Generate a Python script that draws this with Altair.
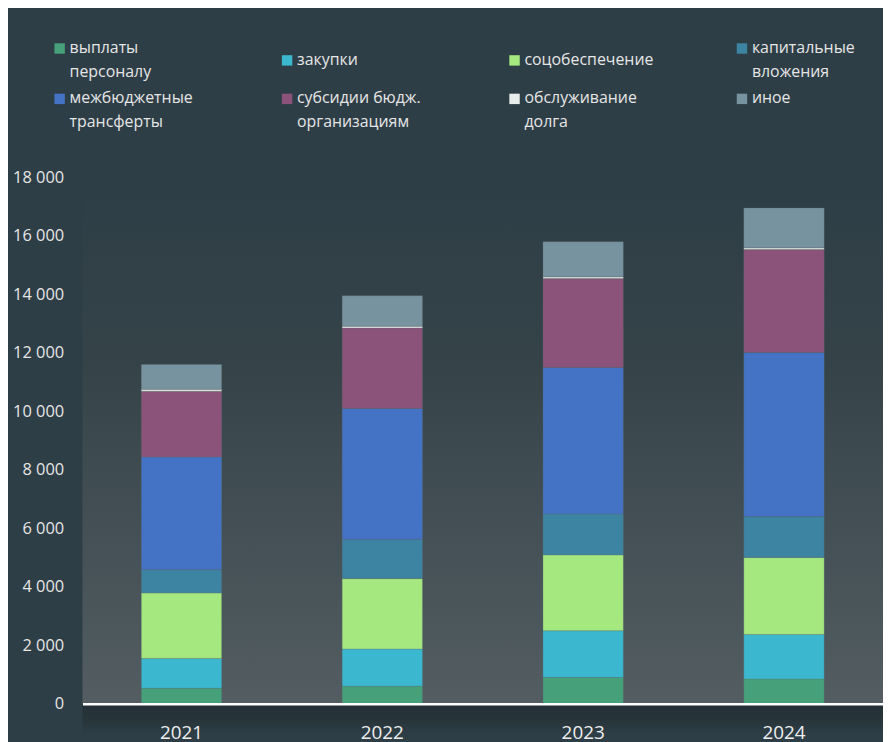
import altair as alt
import pandas as pd

years = ["2021", "2022", "2023", "2024"]
categories = [
    "выплаты\nперсоналу",
    "закупки",
    "соцобеспечение",
    "капитальные\nвложения",
    "межбюджетные\nтрансферты",
    "субсидии бюдж.\nорганизациям",
    "обслуживание\nдолга",
    "иное",
]
colors = ["#46a07a", "#3bb8d0", "#a6e880", "#3d84a3", "#4472c4", "#8b5379", "#e8ecea", "#7893a0"]

values = {
    "выплаты\nперсоналу":          [530, 600, 900, 850],
    "закупки":                     [1020, 1270, 1600, 1520],
    "соцобеспечение":              [2240, 2410, 2590, 2630],
    "капитальные\nвложения":       [790, 1340, 1400, 1400],
    "межбюджетные\nтрансферты":    [3860, 4480, 5010, 5610],
    "субсидии бюдж.\nорганизациям": [2250, 2750, 3040, 3520],
    "обслуживание\nдолга":         [60, 60, 60, 60],
    "иное":                        [850, 1040, 1200, 1360],
}

rows = []
for ci, c in enumerate(categories):
    for yi, y in enumerate(years):
        rows.append({"year": y, "cat": c, "idx": ci, "value": values[c][yi]})
df = pd.DataFrame(rows)

W, H = 806, 530
BG = "#2e3e46"
DY = 4.5

panel = alt.Chart(pd.DataFrame({"a": [0]})).mark_rect(
    color=alt.Gradient(
        gradient="linear", x1=0, y1=0, x2=0, y2=1,
        stops=[alt.GradientStop(offset=0, color=BG),
               alt.GradientStop(offset=0.35, color="#354349"),
               alt.GradientStop(offset=1, color="#535d62")],
    )
).encode(x=alt.value(0), x2=alt.value(W), y=alt.value(0), y2=alt.value(H))

shade = alt.Chart(pd.DataFrame({"a": [0]})).mark_rect(
    color=alt.Gradient(
        gradient="linear", x1=0, y1=0, x2=0, y2=1,
        stops=[alt.GradientStop(offset=0, color="#232f36"),
               alt.GradientStop(offset=0.5, color="#273439"),
               alt.GradientStop(offset=1, color=BG)],
    )
).encode(x=alt.value(0), x2=alt.value(W), y=alt.value(H), y2=alt.value(H + 30))

bars = alt.Chart(df).mark_bar(strokeWidth=0.6, stroke="#5d6a70", strokeOpacity=0.5).encode(
    x=alt.X("year:N", sort=years, title=None,
            scale=alt.Scale(paddingInner=0.6, paddingOuter=0.293),
            axis=alt.Axis(labelAngle=0, labelFontSize=19, labelColor="#eeeeee",
                          labelPadding=15, ticks=False, tickSize=0, domainColor="#ffffff",
                          domainWidth=2.5, labelFont="Open Sans", zindex=2)),
    y=alt.Y("value:Q", stack="zero", title=None,
            scale=alt.Scale(domain=[0, 18000], nice=False),
            axis=alt.Axis(values=list(range(0, 18001, 2000)), grid=False, domain=False,
                          ticks=False, tickSize=0, labelFontSize=16.5, labelColor="#e6e6e6",
                          labelPadding=19, labelFont="Open Sans", zindex=2,
                          labelOffset=-DY,
                          labelExpr="replace(format(datum.value, ','), ',', ' ')")),
    color=alt.Color("cat:N", sort=categories,
                    scale=alt.Scale(domain=categories, range=colors),
                    legend=alt.Legend(title=None, orient="none", legendX=-31, legendY=-138,
                                      direction="horizontal", gridAlign="all",
                                      columns=4, symbolType="square", symbolSize=110,
                                      symbolStrokeWidth=0, labelFontSize=16,
                                      labelColor="#e6e6e6", labelFont="Open Sans",
                                      labelOffset=2, columnPadding=81, rowPadding=10,
                                      labelBaseline="alphabetic", labelLimit=300,
                                      labelExpr="split(datum.label, '\\n')")),
    order=alt.Order("idx:Q"),
)

chart = alt.layer(panel, shade, bars).properties(
    width=W, height=H, background=BG,
    autosize=alt.AutoSizeParams(type="none"),
    padding={"left": 75, "top": 168, "right": 0, "bottom": 36},
).configure(
    style={"guide-label": {"lineHeight": 24, "dy": DY}}
).configure_view(stroke=None)

chart.save("out.html", embed_options={"renderer": "svg", "actions": False})
